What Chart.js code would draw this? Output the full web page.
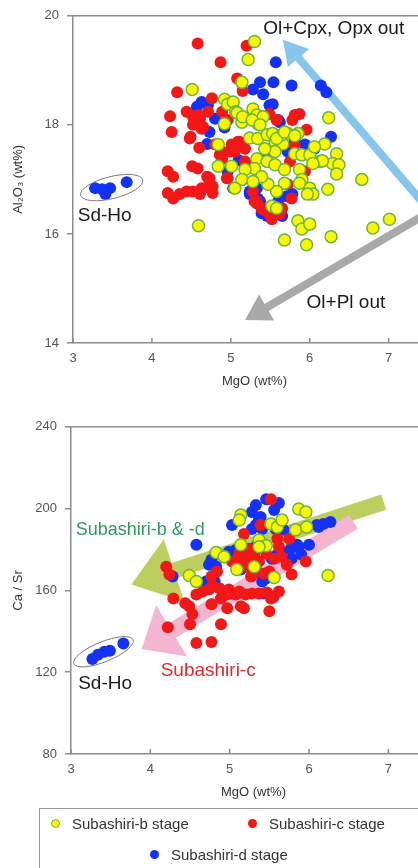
<!DOCTYPE html>
<html lang="en">
<head>
<meta charset="UTF-8">
<title>MgO variation diagrams</title>
<script src="https://cdn.jsdelivr.net/npm/chart.js"></script>
<style>
  html,body{margin:0;overflow:hidden;}
  body{background:#fff;width:418px;height:868px;position:relative;font-family:'Liberation Sans',Arial,sans-serif;}
  .plot{position:absolute;left:0;}
  #alChart{top:0;}
  #caChart{top:411px;}
  .legend{position:absolute;left:39px;top:808px;width:420px;height:80px;border:1px solid #9a9a9a;box-sizing:border-box;color:#333;font-size:15px;}
  .legend .item{position:absolute;display:flex;align-items:center;white-space:nowrap;}
  .legend .dot{width:9px;height:9px;border-radius:50%;margin-right:12px;box-sizing:border-box;}
</style>
</head>
<body>
<canvas id="alChart" class="plot" width="460" height="400"></canvas>
<canvas id="caChart" class="plot" width="460" height="400"></canvas>
<div class="legend">
  <div class="item" style="left:11px;top:6px;"><span class="dot" style="background:#f7f700;border:1.5px solid #6db33f;"></span>Subashiri-b stage</div>
  <div class="item" style="left:208px;top:6px;"><span class="dot" style="background:#f21818;"></span>Subashiri-c stage</div>
  <div class="item" style="left:110px;top:37px;"><span class="dot" style="background:#1432f5;"></span>Subashiri-d stage</div>
</div>
<script>
// [MgO wt%, Al2O3 wt%]
const al2o3B = [[5.30,19.53],[5.22,19.20],[5.14,18.78],[4.51,18.65],[4.92,18.47],[4.96,18.38],[5.03,18.42],[5.06,18.24],[5.28,18.29],[5.33,18.18],[5.34,18.02],[5.14,18.05],[4.92,18.02],[5.08,18.22],[5.15,18.15],[5.41,18.15],[5.27,18.09],[5.37,18.00],[5.24,17.76],[5.34,17.75],[5.46,17.82],[5.53,17.84],[5.56,17.69],[5.72,17.84],[5.85,17.84],[5.66,17.65],[5.56,17.51],[5.43,17.56],[5.81,17.47],[5.90,17.45],[6.00,17.45],[6.13,17.33],[5.33,17.38],[5.46,17.33],[5.30,17.20],[5.56,17.27],[5.68,17.18],[5.87,17.18],[5.90,17.00],[6.00,16.84],[6.04,16.73],[5.97,16.73],[5.68,16.93],[5.58,16.78],[5.47,16.91],[5.39,17.05],[5.18,17.18],[5.14,17.00],[5.05,16.84],[5.01,17.24],[4.84,17.24],[4.84,17.64],[5.52,16.51],[5.58,16.47],[6.24,18.13],[6.19,17.65],[6.34,17.47],[6.29,17.29],[6.37,17.27],[6.34,17.10],[6.16,17.34],[6.66,17.00],[4.59,16.15],[5.68,15.89],[5.85,16.24],[5.90,16.09],[6.00,16.18],[5.96,15.80],[6.27,15.95],[6.80,16.11],[7.01,16.27],[6.23,16.82],[5.28,16.96],[5.65,17.82],[5.58,17.75],[6.06,17.60],[5.68,17.87],[5.81,17.80],[6.04,17.29],[5.87,16.93]];
const al2o3C = [[4.58,19.49],[5.20,19.45],[4.87,19.15],[5.08,18.85],[5.14,18.76],[5.15,18.62],[4.32,18.60],[4.76,18.49],[4.44,18.24],[4.23,18.16],[4.52,18.15],[4.61,18.11],[4.25,17.87],[4.49,17.78],[4.60,17.58],[4.51,17.24],[4.20,17.15],[4.27,17.05],[5.87,18.20],[5.78,18.09],[5.96,17.91],[4.20,16.75],[4.27,16.65],[4.35,16.73],[4.44,16.78],[4.52,16.78],[4.61,16.73],[4.70,17.05],[4.73,16.96],[4.77,16.87],[4.77,16.75],[5.33,16.56],[5.41,16.45],[5.49,16.36],[5.58,16.42],[5.62,16.36],[5.28,16.78],[4.48,17.75],[4.52,18.00],[4.65,17.96],[4.95,17.02],[4.86,17.45],[4.99,17.51],[5.11,17.69],[5.33,16.60],[5.46,16.42],[5.52,16.27],[4.58,18.18],[4.71,18.24],[4.63,17.93],[4.89,18.24],[4.96,18.09],[4.80,17.64],[4.89,17.51],[5.01,17.64],[5.49,18.20],[5.58,18.09],[5.81,18.18],[4.96,17.02],[4.89,17.38],[4.73,17.02],[4.73,16.84],[4.63,16.84],[4.58,17.20],[5.30,16.60],[5.39,16.47],[5.65,16.47],[5.77,16.65],[5.72,16.91],[5.75,17.33],[5.05,17.51],[5.18,17.33],[5.18,17.56],[5.09,17.69],[5.81,17.64],[5.94,17.15]];
const al2o3D = [[3.28,16.84],[3.37,16.82],[3.47,16.84],[3.41,16.73],[3.68,16.95],[5.57,19.15],[5.37,18.78],[5.54,18.78],[5.77,18.72],[5.28,18.65],[5.41,18.56],[6.14,18.72],[6.21,18.60],[4.63,18.42],[5.49,18.36],[6.27,17.78],[4.57,18.33],[4.71,18.36],[4.80,18.11],[4.73,17.87],[4.70,17.65],[4.96,17.15],[5.24,16.73],[5.33,16.84],[5.72,17.51],[5.81,17.69],[5.94,17.64],[6.06,17.56],[5.53,18.38],[5.60,18.09],[5.34,16.65],[5.60,16.60],[5.03,16.84],[5.24,16.78],[5.37,16.60],[5.46,16.33],[5.65,16.33],[5.39,16.38],[5.71,16.69],[5.78,16.73],[5.62,18.05],[4.92,17.95],[5.45,17.40],[5.10,17.35]];

// [MgO wt%, Ca/Sr]
const caSrB = [[5.14,196.9],[5.12,194.4],[4.83,178.5],[4.93,176.5],[4.49,167.3],[4.58,164.4],[5.09,170.2],[5.31,171.6],[5.14,182.3],[5.37,184.7],[5.46,181.8],[5.52,192.5],[5.60,191.0],[5.66,194.4],[5.87,199.8],[5.96,198.3],[5.83,189.6],[5.97,191.0],[5.56,166.3],[6.24,167.3],[5.37,181.3]];
const caSrC = [[4.22,142.0],[4.29,156.0],[4.44,153.7],[4.49,152.2],[4.53,148.4],[4.50,143.5],[4.58,134.3],[4.77,134.8],[4.77,153.2],[4.89,143.5],[4.97,151.3],[5.14,152.3],[5.50,149.8],[5.55,156.6],[5.62,159.5],[4.58,158.0],[4.66,159.5],[4.74,160.5],[4.87,161.0],[4.96,158.0],[5.03,158.5],[5.12,159.5],[5.20,158.0],[5.28,158.5],[4.89,156.0],[4.20,171.6],[4.24,167.8],[4.84,169.2],[4.78,162.0],[4.91,159.5],[4.99,160.5],[5.08,158.0],[5.18,151.3],[5.18,187.6],[5.24,180.4],[5.31,178.0],[5.37,174.1],[5.46,178.0],[5.41,182.8],[5.50,169.2],[5.56,175.5],[5.53,157.1],[5.52,204.6],[5.39,192.0],[5.16,177.5],[5.27,175.0],[5.21,171.6],[5.12,175.5],[5.33,170.7],[5.43,168.2],[5.27,166.8],[5.60,185.2],[5.62,181.3],[5.75,185.2],[5.65,176.5],[5.72,172.6],[5.78,167.8],[5.96,174.1],[4.77,166.8],[5.37,158.5],[5.47,159.0],[5.52,156.0],[5.29,167.8],[5.03,174.1],[5.12,178.0],[5.22,176.0]];
const caSrD = [[3.27,126.5],[3.34,128.5],[3.42,130.0],[3.49,130.5],[3.66,134.0],[4.58,182.3],[4.28,166.8],[4.74,172.6],[4.77,175.0],[5.03,192.0],[4.99,178.9],[5.08,179.9],[5.28,198.3],[5.33,201.7],[5.46,204.6],[5.62,202.7],[5.37,194.9],[5.41,190.0],[5.58,190.0],[5.28,190.0],[6.12,191.0],[6.18,192.5],[6.27,193.5],[6.00,182.3],[5.85,182.3],[5.77,180.4],[5.90,177.5],[5.78,175.5],[5.43,165.8],[5.43,158.5],[4.81,164.4],[4.70,164.4],[5.22,174.0],[5.53,175.5],[5.60,177.5],[5.56,199.3],[5.39,195.9],[5.33,192.0],[4.83,171.6],[4.77,165.8],[5.46,165.8],[5.66,178.9],[5.87,181.3],[6.10,192.0],[5.68,189.6],[5.33,181.3],[5.14,170.2],[5.41,164.4]];

const stageNames = ['Subashiri-b stage', 'Subashiri-c stage', 'Subashiri-d stage'];
const mgoTicks = [3, 4, 5, 6, 7];

Chart.defaults.font.family = "'Liberation Sans', Arial, sans-serif";
const axisGrey = '#8c8c8c';

const toPoints = arr => arr.map(([x, y]) => ({x, y}));

function stageSets(b, c, d) {
  return [
    {label: stageNames[0], data: toPoints(b), backgroundColor: '#f7f700', borderColor: '#6db33f', borderWidth: 1.5, pointRadius: 6},
    {label: stageNames[1], data: toPoints(c), backgroundColor: '#f21818', borderColor: '#f21818', borderWidth: 0, pointRadius: 6},
    {label: stageNames[2], data: toPoints(d), backgroundColor: '#1432f5', borderColor: '#1432f5', borderWidth: 0, pointRadius: 6}
  ];
}

// arrows go under the points, ellipses and words over them
const marks = {
  id: 'marks',
  beforeDatasetsDraw(chart, args, opts) {
    const {ctx, scales: {x, y}} = chart;
    ctx.save();
    for (const a of opts.arrows || []) {
      const x0 = x.getPixelForValue(a.from[0]), y0 = y.getPixelForValue(a.from[1]);
      const x1 = x.getPixelForValue(a.to[0]), y1 = y.getPixelForValue(a.to[1]);
      const len = Math.hypot(x1 - x0, y1 - y0);
      const ux = (x1 - x0) / len, uy = (y1 - y0) / len;
      const nx = -uy, ny = ux;
      const bx = x1 - ux * a.head, by = y1 - uy * a.head;
      const s = a.shaft / 2, h = a.spread / 2;
      ctx.beginPath();
      ctx.moveTo(x0 + nx * s, y0 + ny * s);
      ctx.lineTo(bx + nx * s, by + ny * s);
      ctx.lineTo(bx + nx * h, by + ny * h);
      ctx.lineTo(x1, y1);
      ctx.lineTo(bx - nx * h, by - ny * h);
      ctx.lineTo(bx - nx * s, by - ny * s);
      ctx.lineTo(x0 - nx * s, y0 - ny * s);
      ctx.closePath();
      ctx.fillStyle = a.color;
      ctx.fill();
    }
    ctx.restore();
  },
  afterDatasetsDraw(chart, args, opts) {
    const {ctx, scales: {x, y}} = chart;
    ctx.save();
    for (const e of opts.ellipses || []) {
      ctx.beginPath();
      ctx.ellipse(x.getPixelForValue(e.at[0]), y.getPixelForValue(e.at[1]), e.rx, e.ry, e.tilt * Math.PI / 180, 0, Math.PI * 2);
      ctx.strokeStyle = '#7a7a7a';
      ctx.lineWidth = 1;
      ctx.stroke();
    }
    for (const t of opts.labels || []) {
      ctx.font = t.size + "px 'Liberation Sans', Arial, sans-serif";
      ctx.fillStyle = t.color;
      ctx.textAlign = 'left';
      ctx.textBaseline = 'middle';
      ctx.fillText(t.text, x.getPixelForValue(t.at[0]), y.getPixelForValue(t.at[1]));
    }
    ctx.restore();
  }
};

// closes the box on top/right and puts short inward ticks on the MgO axis
const frame = {
  id: 'frame',
  afterDraw(chart) {
    const {ctx, chartArea: {left, top, right, bottom}, scales: {x}} = chart;
    ctx.save();
    ctx.strokeStyle = axisGrey;
    ctx.lineWidth = 1.5;
    ctx.beginPath();
    ctx.moveTo(left, top);
    ctx.lineTo(right, top);
    ctx.lineTo(right, bottom);
    for (const v of mgoTicks) {
      const px = x.getPixelForValue(v);
      ctx.moveTo(px, bottom);
      ctx.lineTo(px, bottom - 5);
    }
    ctx.stroke();
    ctx.restore();
  }
};

function scales(yMin, yMax, yStep, yTitle, yWidth) {
  return {
    x: {
      type: 'linear', min: 3, max: 7.6,
      afterBuildTicks: s => { s.ticks = mgoTicks.map(v => ({value: v})); },
      ticks: {color: '#555', font: {size: 13}, padding: 8},
      grid: {display: false, drawTicks: false},
      border: {color: axisGrey, width: 1.5},
      title: {display: true, text: 'MgO (wt%)', color: '#333', font: {size: 13}, padding: {top: 0, bottom: 11}},
      afterFit: s => { s.height = 57; }
    },
    y: {
      type: 'linear', min: yMin, max: yMax,
      ticks: {stepSize: yStep, color: '#555', font: {size: 13}, padding: 8},
      grid: {drawOnChartArea: false, tickLength: 6, color: axisGrey, lineWidth: 1.5},
      border: {color: axisGrey, width: 1.5},
      title: {display: true, text: yTitle, color: '#333', font: {size: 13}, padding: {top: 11, bottom: 0}},
      afterFit: s => { s.width = yWidth; }
    }
  };
}

function makeChart(id, datasets, axes, notes) {
  return new Chart(document.getElementById(id), {
    type: 'scatter',
    data: {datasets},
    options: {
      responsive: false,
      animation: false,
      events: [],
      layout: {padding: {top: 13, right: 24, left: 0, bottom: 0}},
      scales: axes,
      plugins: {legend: {display: false}, tooltip: {enabled: false}, marks: notes}
    },
    plugins: [marks, frame]
  });
}

makeChart('alChart', stageSets(al2o3B, al2o3C, al2o3D), scales(14, 20, 2, 'Al₂O₃ (wt%)', 73), {
  arrows: [
    {from: [7.6, 16.29], to: [5.66, 19.56], shaft: 8, head: 24, spread: 28, color: '#86c6ec'},
    {from: [7.6, 16.47], to: [5.18, 14.42], shaft: 8, head: 25, spread: 30, color: '#a9a9a9'}
  ],
  ellipses: [{at: [3.49, 16.85], rx: 32, ry: 11, tilt: -14}],
  labels: [
    {text: 'Ol+Cpx, Opx out', at: [5.41, 19.76], size: 19, color: '#1a1a1a'},
    {text: 'Ol+Pl out', at: [5.96, 14.73], size: 19, color: '#1a1a1a'},
    {text: 'Sd-Ho', at: [3.06, 16.33], size: 19, color: '#1a1a1a'}
  ]
});

makeChart('caChart', stageSets(caSrB, caSrC, caSrD), scales(80, 240, 40, 'Ca / Sr', 71), {
  arrows: [
    {from: [6.94, 203.2], to: [3.76, 162.9], shaft: 16, head: 45, spread: 66, color: '#bccf5e'},
    {from: [6.56, 193.5], to: [3.89, 131.4], shaft: 16, head: 35, spread: 60, color: '#f3b5cf'}
  ],
  ellipses: [{at: [3.41, 130.0], rx: 32, ry: 10, tilt: -22}],
  labels: [
    {text: 'Subashiri-b & -d', at: [3.06, 189.6], size: 18, color: '#2f9a5c'},
    {text: 'Subashiri-c', at: [4.13, 120.7], size: 19, color: '#e3262e'},
    {text: 'Sd-Ho', at: [3.09, 114.4], size: 19, color: '#1a1a1a'}
  ]
});
</script>
</body>
</html>
